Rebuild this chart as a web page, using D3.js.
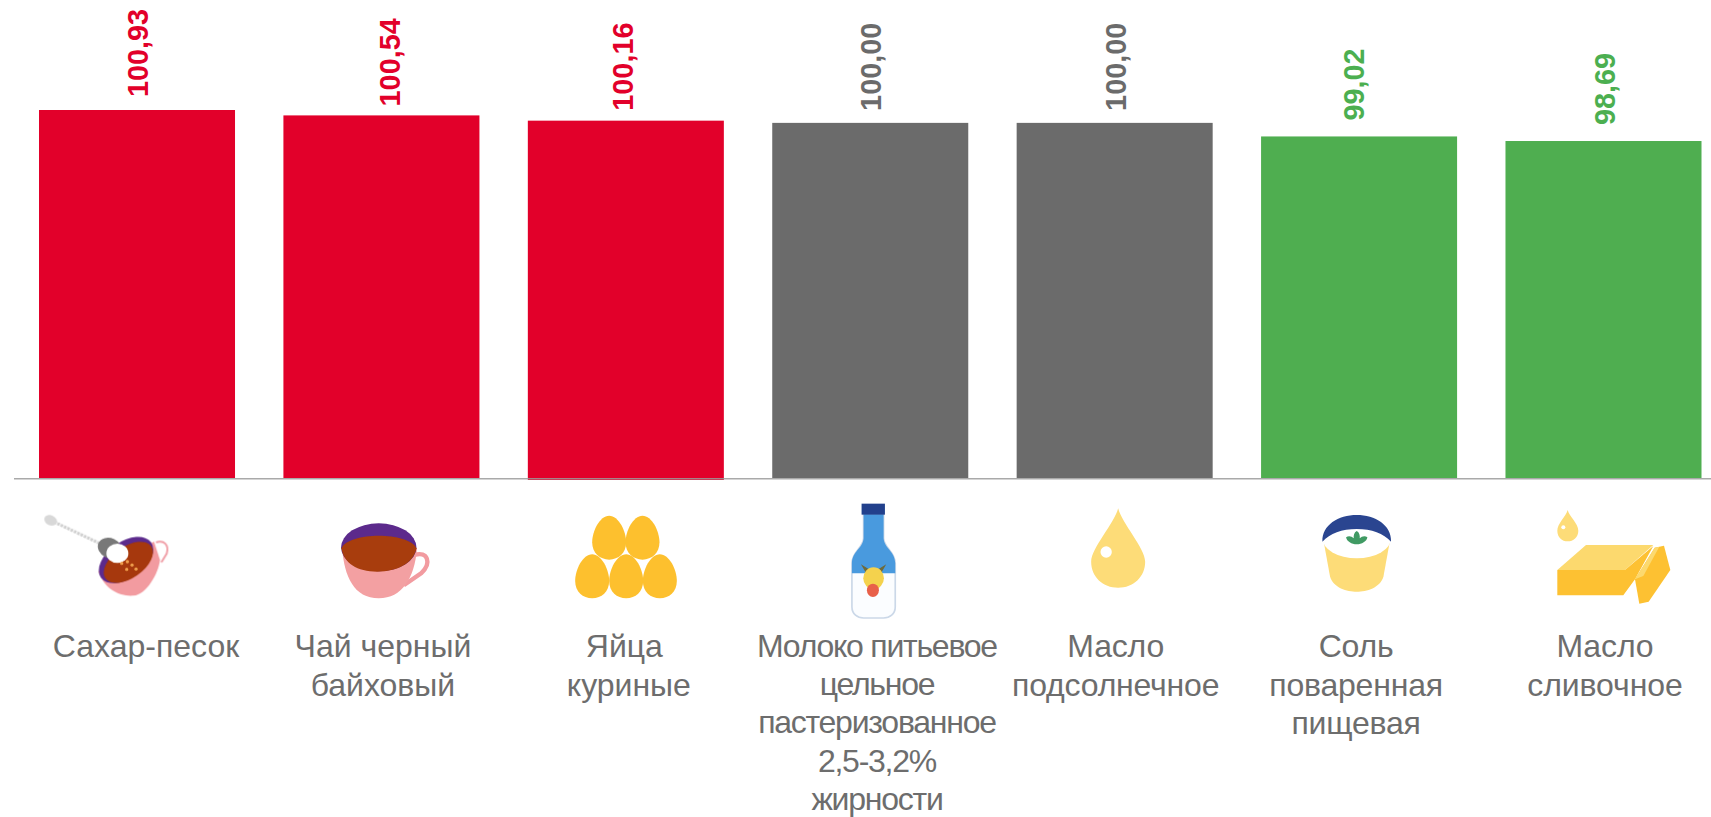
<!DOCTYPE html>
<html lang="ru">
<head>
<meta charset="utf-8">
<script src="https://cdn.jsdelivr.net/npm/d3@7"></script>
<style>
html,body{margin:0;padding:0;background:#fff;overflow:hidden}
svg{display:block}
text{font-family:"Liberation Sans",Arial,sans-serif}
</style>
</head>
<body>
<svg id="chart" width="1711" height="817"></svg>
<script>
const categories = ["Сахар-песок","Чай черный байховый","Яйца куриные","Молоко питьевое цельное пастеризованное 2,5-3,2% жирности","Масло подсолнечное","Соль поваренная пищевая","Масло сливочное"];
const categoryLines = [
  ["Сахар-песок"],
  ["Чай черный","байховый"],
  ["Яйца","куриные"],
  ["Молоко питьевое","цельное","пастеризованное","2,5-3,2%","жирности"],
  ["Масло","подсолнечное"],
  ["Соль","поваренная","пищевая"],
  ["Масло","сливочное"]
];
const values = [100.93,100.54,100.16,100.00,100.00,99.02,98.69];
const valueLabels = ["100,93","100,54","100,16","100,00","100,00","99,02","98,69"];
const barColors = ["#e2002a","#e2002a","#e2002a","#6b6b6b","#6b6b6b","#4fae50","#4fae50"];
const labelColors = ["#e2002a","#e2002a","#e2002a","#6b6b6b","#6b6b6b","#4caf50","#4caf50"];

// layout only
const labelShift = [[9],[1.5,1.5],[-1.5,3],[6.7,6.7,6.7,6.7,6.7],[1,1],[-3,-3,-3],[1.5,1.5]];
const labelSpacing = [0,0,0,-1.25,-0.2,-0.2,-0.1];
const labelStep = [39,39,39,38.2,39,38.6,39];
const valueShift = [0.5,8,-3,0.5,1,-5,1.5];
const valueGap = [13,9,10,12,12,16,16];
const W = 1711, H = 817, baseY = 478;

const svg = d3.select("#chart");
const x = d3.scaleBand().domain(categories).range([39,1701.5]).paddingInner(0.198).paddingOuter(0);
const y = d3.scaleLinear().domain([74.35,100.93]).range([baseY,110]);
const mid = c => x(c) + x.bandwidth()/2;

const defs = svg.append("defs");
defs.append("filter").attr("id","soft").attr("x","-10%").attr("y","-10%").attr("width","120%").attr("height","120%")
  .append("feGaussianBlur").attr("stdDeviation",0.55);
defs.append("filter").attr("id","softer").attr("x","-10%").attr("y","-10%").attr("width","120%").attr("height","120%")
  .append("feGaussianBlur").attr("stdDeviation",0.9);

// bars
svg.append("g").selectAll("rect").data(categories).join("rect")
  .attr("x",c=>x(c)).attr("width",x.bandwidth())
  .attr("y",(c,i)=>y(values[i]))
  .attr("height",(c,i)=>baseY-y(values[i])+(i===2?2:0))
  .attr("fill",(c,i)=>barColors[i]);

// baseline
svg.append("line").attr("x1",14).attr("x2",W).attr("y1",baseY+0.7).attr("y2",baseY+0.7)
  .attr("stroke","#9a9a9a").attr("stroke-opacity",0.85).attr("stroke-width",1.5);

// value labels
svg.append("g").selectAll("text").data(categories).join("text")
  .attr("transform",(c,i)=>`translate(${mid(c)+valueShift[i]+10.3},${y(values[i])-valueGap[i]}) rotate(-90)`)
  .attr("font-size",28.8).attr("font-weight","bold").attr("fill",(c,i)=>labelColors[i])
  .text((c,i)=>valueLabels[i]);

// category labels
const lab = svg.append("g").selectAll("g").data(categories).join("g")
  .attr("transform",c=>`translate(${mid(c)},0)`);
lab.each(function(c,i){
  d3.select(this).selectAll("text").data(categoryLines[i]).join("text")
    .attr("x",(l,k)=>labelShift[i][k])
    .attr("y",(l,k)=>657+k*labelStep[i])
    .attr("text-anchor","middle").attr("font-size",32).attr("fill","#6d6d6d")
    .attr("letter-spacing",labelSpacing[i])
    .text(l=>l);
});

// icons, each drawn in 3x crop units around its category
function icon(i,dx,dy,filter){
  const g = svg.append("g")
    .attr("transform",`translate(${mid(categories[i])+dx},${dy}) scale(${1/3})`);
  if(filter) g.attr("filter",`url(#${filter})`);
  return g;
}
// sugar
{
  const g = icon(0,30-137,505,"softer");
  g.append("path").attr("d","M378 112 C402 104 418 120 410 146 L394 172").attr("fill","none").attr("stroke","#f0a0a8").attr("stroke-width",6);
  g.append("path").attr("d","M205 200 C225 255 270 275 310 272 C350 268 385 205 390 165 L372 110 Z").attr("fill","#f29ba0");
  g.append("ellipse").attr("cx",288).attr("cy",165).attr("rx",92).attr("ry",55).attr("transform","rotate(-35 288 165)").attr("fill","#5b2a8c");
  g.append("ellipse").attr("cx",295).attr("cy",172).attr("rx",84).attr("ry",47).attr("transform","rotate(-35 295 172)").attr("fill","#a6380a");
  g.append("path").attr("d","M62 46 L215 118").attr("stroke","#cfcfcf").attr("stroke-width",9).attr("stroke-dasharray","8 3");
  g.append("ellipse").attr("cx",62).attr("cy",46).attr("rx",20).attr("ry",15).attr("transform","rotate(25 62 46)").attr("fill","#d8d8d8");
  g.append("ellipse").attr("cx",240).attr("cy",130).attr("rx",38).attr("ry",30).attr("transform","rotate(25 240 130)").attr("fill","#787878");
  g.append("ellipse").attr("cx",262).attr("cy",145).attr("rx",33).attr("ry",29).attr("fill","#fff");
  [[275,175],[292,170],[306,180],[290,193],[318,192]].forEach(p=>g.append("circle").attr("cx",p[0]).attr("cy",p[1]).attr("r",5).attr("fill","#f0a050"));
}
// tea
{
  const g = icon(1,320-381,510,"softer");
  g.append("path").attr("d","M282 135 C322 122 335 160 302 190 L250 226").attr("fill","none").attr("stroke","#f29ba0").attr("stroke-width",13);
  g.append("path").attr("d","M65 115 C72 200 100 265 175 265 C245 265 282 205 290 115 Z").attr("fill","#f3a0a2");
  g.append("ellipse").attr("cx",175).attr("cy",112).attr("rx",113).attr("ry",72).attr("fill","#5b2a8c");
  g.append("path").attr("d","M63 115 C85 65 265 65 288 115 C280 160 230 185 170 185 C110 185 70 160 63 115 Z").attr("fill","#a83c0a");
}
// eggs
{
  const g = icon(2,500-626,460,"soft");
  const egg = (cx,cy)=>g.append("path")
    .attr("d",`M${cx} ${cy-66} C${cx+28} ${cy-66} ${cx+51} ${cy-20} ${cx+51} ${cy+14} C${cx+51} ${cy+46} ${cx+28} ${cy+66} ${cx} ${cy+66} C${cx-28} ${cy+66} ${cx-51} ${cy+46} ${cx-51} ${cy+14} C${cx-51} ${cy-20} ${cx-28} ${cy-66} ${cx} ${cy-66} Z`)
    .attr("fill","#fdc02f");
  [[328,233],[428,233],[277,349],[379,349],[480,349]].forEach(p=>egg(p[0],p[1]));
}
// milk
{
  const g = icon(3,820-870,495,"soft");
  const body = "M130 58 L190 58 L190 130 C192 160 225 170 225 205 L225 335 C225 358 208 369 190 369 L130 369 C112 369 95 358 95 335 L95 205 C95 170 128 160 130 130 Z";
  g.append("path").attr("d",body).attr("fill","#fbfdff").attr("stroke","#cbd8e8").attr("stroke-width",5);
  g.append("path").attr("d","M130 58 L190 58 L190 130 C192 160 225 170 225 205 L225 235 L95 235 L95 205 C95 170 128 160 130 130 Z").attr("fill","#4a9ade");
  g.append("rect").attr("x",124).attr("y",26).attr("width",70).attr("height",33).attr("fill","#20408c");
  g.append("path").attr("d","M122 208 L145 222 L175 222 L198 208 L184 232 L136 232 Z").attr("fill","#6e6a3a");
  g.append("ellipse").attr("cx",160).attr("cy",250).attr("rx",31).attr("ry",33).attr("fill","#f4d24e");
  g.append("ellipse").attr("cx",158).attr("cy",286).attr("rx",18).attr("ry",20).attr("fill","#e8604a");
}
// sunflower oil
{
  const g = icon(4,1000-1114.5,460,"soft");
  g.append("path").attr("d","M354 145 C365 190 435 265 435 305 C435 350 400 383 354 383 C308 383 273 350 273 305 C273 265 343 190 354 145 Z").attr("fill","#fddc78");
  g.append("ellipse").attr("cx",318).attr("cy",276).attr("rx",17).attr("ry",17).attr("fill","#fff");
}
// salt
{
  const g = icon(5,1300-1359,505,"soft");
  g.append("path").attr("d","M70 105 L90 215 C100 248 140 260 170 260 C200 260 240 248 250 215 L270 105 Z").attr("fill","#fddc78");
  g.append("ellipse").attr("cx",170).attr("cy",100).attr("rx",103).attr("ry",60).attr("fill","#fff");
  g.append("path").attr("d","M67 110 C65 60 115 30 170 30 C225 30 275 60 273 110 C250 85 215 72 170 72 C125 72 90 85 67 110 Z").attr("fill","#2a4590");
  g.append("path").attr("d","M170 78 C178 82 180 92 179 100 C186 92 196 92 202 97 C200 110 185 118 170 118 C155 118 140 110 138 97 C144 92 154 92 161 100 C160 92 162 82 170 78 Z").attr("fill","#3f9a63");
}
// butter
{
  const g = icon(6,1540-1603.5,500,"soft");
  g.append("path").attr("d","M83 30 C88 50 115 70 115 92 C115 112 100 124 83 124 C66 124 52 112 52 92 C52 70 78 50 83 30 Z").attr("fill","#fddc78");
  g.append("circle").attr("cx",70).attr("cy",82).attr("r",6).attr("fill","#fff");
  g.append("path").attr("d","M52 210 L138 135 L340 135 L255 210 Z").attr("fill","#fcd96e");
  g.append("path").attr("d","M52 210 L255 210 L340 138 L285 238 L250 286 L52 286 Z").attr("fill","#fdc130");
  g.append("path").attr("d","M344 143 L372 137 L391 210 L326 305 L298 311 L285 238 Z").attr("fill","#fdc130");
  g.append("path").attr("d","M344 143 L358 140 L310 228 L285 238 Z").attr("fill","#fcd96e");
}
</script>
</body>
</html>
